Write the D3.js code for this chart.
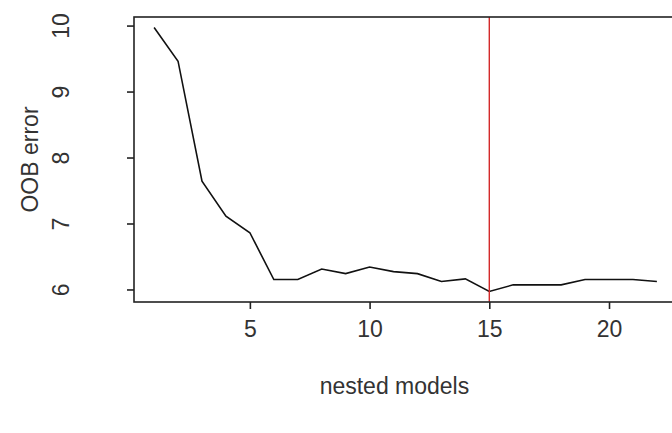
<!DOCTYPE html>
<html><head><meta charset="utf-8">
<script src="https://cdn.jsdelivr.net/npm/d3@7"></script>
<style>body{margin:0;background:#fff;overflow:hidden}</style>
</head><body><svg id="c" width="672" height="433"></svg>
<script>
const nestedModels = [1,2,3,4,5,6,7,8,9,10,11,12,13,14,15,16,17,18,19,20,21,22];
const oobError = [9.97,9.46,7.64,7.11,6.86,6.15,6.15,6.31,6.24,6.34,6.27,6.24,6.12,6.16,5.97,6.07,6.07,6.07,6.15,6.15,6.15,6.12];
const xTicks = [5,10,15,20];
const yTicks = [6,7,8,9,10];
const selectedModel = 15;
const xLabel = "nested models";
const yLabel = "OOB error";

const svg = d3.select("#c");
const L = 134, R = 677, T = 17, B = 302;
const font = "Liberation Sans, Arial, sans-serif";
const fs = 23;

function ext(a){ const [lo,hi]=d3.extent(a); const d=(hi-lo)*0.04; return [lo-d,hi+d]; }
const x = d3.scaleLinear().domain(ext(nestedModels)).range([L,R]);
const y = d3.scaleLinear().domain(ext(oobError)).range([B,T]);

svg.append("defs").append("clipPath").attr("id","clip")
  .append("rect").attr("x",L).attr("y",T).attr("width",R-L).attr("height",B-T);

const g = svg.append("g").attr("clip-path","url(#clip)");
g.append("path")
  .datum(nestedModels.map((m,i)=>[m,oobError[i]]))
  .attr("fill","none").attr("stroke","#111").attr("stroke-width",1.6)
  .attr("d", d3.line().x(d=>x(d[0])).y(d=>y(d[1])));
g.append("line")
  .attr("x1",x(selectedModel)).attr("x2",x(selectedModel))
  .attr("y1",T).attr("y2",B)
  .attr("stroke","#d42a2a").attr("stroke-width",1.4);

// box
svg.append("rect").attr("x",L).attr("y",T).attr("width",R-L).attr("height",B-T)
  .attr("fill","none").attr("stroke","#222").attr("stroke-width",1.6);

// x axis
const xa = svg.append("g").attr("transform",`translate(0,${B})`)
  .call(d3.axisBottom(x).tickValues(xTicks).tickSize(7).tickFormat(d3.format("d")));
xa.select(".domain").remove();
xa.selectAll("line").attr("stroke","#222").attr("stroke-width",1.6);
xa.selectAll("text").attr("y",27).attr("dy","0.35em")
  .attr("font-family",font).attr("font-size",fs).attr("fill","#333");

// y axis
const ya = svg.append("g").attr("transform",`translate(${L},0)`)
  .call(d3.axisLeft(y).tickValues(yTicks).tickSize(7).tickFormat(d3.format("d")));
ya.select(".domain").remove();
ya.selectAll("line").attr("stroke","#222").attr("stroke-width",1.6);
ya.selectAll("text").remove();
ya.selectAll(".tick").append("text")
  .attr("transform","translate(-73,0) rotate(-90)")
  .attr("text-anchor","middle").attr("dy","0.35em")
  .attr("font-family",font).attr("font-size",fs).attr("fill","#333")
  .text(d=>d);

svg.append("text").attr("x",(x(xTicks[0])+x(xTicks[3]))/2 - 35).attr("y",386).attr("dy","0.35em")
  .attr("text-anchor","middle").attr("font-family",font).attr("font-size",fs).attr("fill","#333")
  .text(xLabel);
svg.append("text").attr("transform",`translate(30,${(T+B)/2}) rotate(-90)`).attr("dy","0.35em")
  .attr("text-anchor","middle").attr("font-family",font).attr("font-size",fs).attr("fill","#333")
  .text(yLabel);
</script></body></html>
